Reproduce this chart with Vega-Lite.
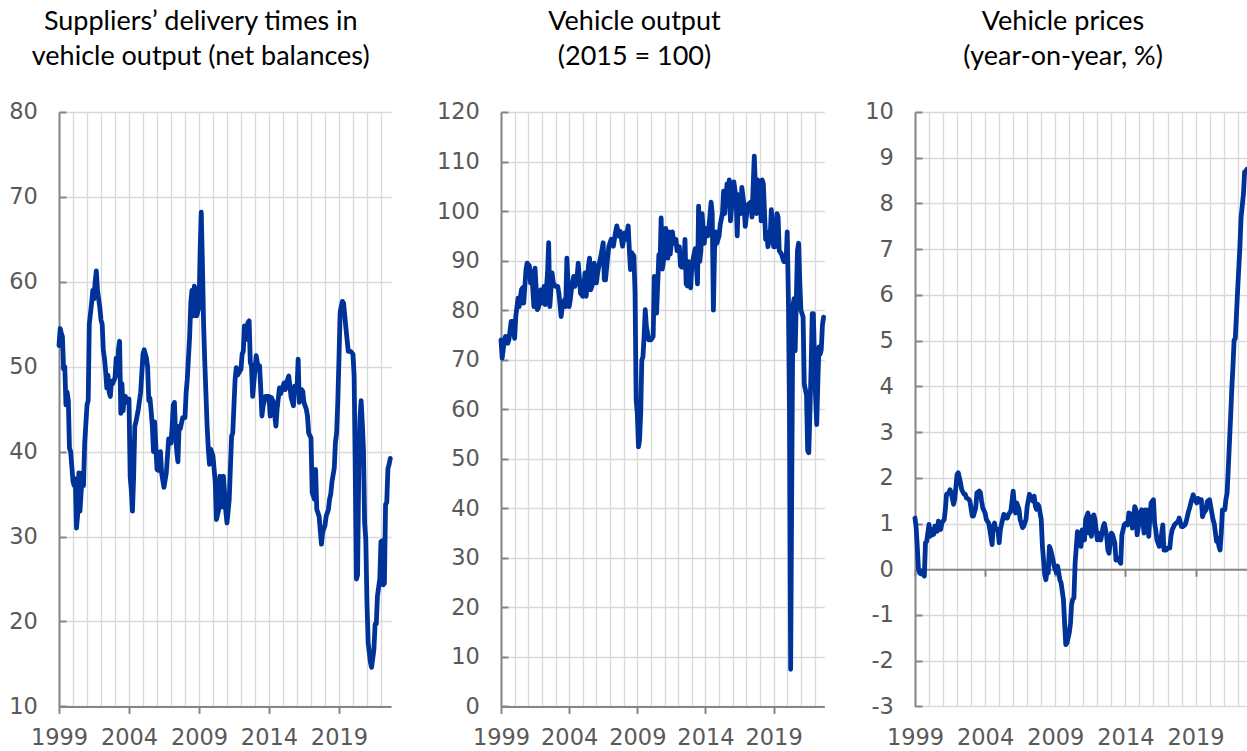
{
"$schema":"https://vega.github.io/schema/vega-lite/v6.json",
"padding":{"left":8,"top":8,"right":0,"bottom":0},
"spacing":38,
"config":{"view":{"stroke":null},
"axis":{"labelFont":"DejaVu Sans","labelFontSize":22.5,"labelColor":"#595959","domainColor":"#868686","domainWidth":2,"tickColor":"#868686","tickWidth":2,"gridColor":"#d9d9d9","gridWidth":1.3,"title":null},
"title":{"font":"Lato","fontSize":27,"fontWeight":"normal","color":"#000000","lineHeight":35,"anchor":"middle","frame":"bounds","offset":30},
"line":{"color":"#003399","strokeWidth":4.8,"strokeJoin":"round","strokeCap":"round"}},
"hconcat":[
{"width":332,"height":594.4,
"title":{"text":["Suppliers’ delivery times in","vehicle output (net balances)"]},
"data":{"values":[
{"date":"1999-01","value":52.5},{"date":"1999-02","value":54.5},{"date":"1999-03","value":54},{"date":"1999-04","value":53.5},{"date":"1999-05","value":49.7},{"date":"1999-06","value":50},{"date":"1999-07","value":45.5},{"date":"1999-08","value":47},{"date":"1999-09","value":46},{"date":"1999-10","value":40.4},{"date":"1999-11","value":40},
{"date":"2000-01","value":36.5},{"date":"2000-02","value":36},{"date":"2000-03","value":36.8},{"date":"2000-04","value":31},{"date":"2000-05","value":32.5},{"date":"2000-06","value":37.5},{"date":"2000-07","value":33},{"date":"2000-09","value":37.5},{"date":"2000-10","value":36},{"date":"2000-11","value":41},
{"date":"2001-01","value":45.5},{"date":"2001-02","value":46},{"date":"2001-03","value":55},{"date":"2001-05","value":57.5},{"date":"2001-06","value":59},{"date":"2001-07","value":58},{"date":"2001-08","value":60},{"date":"2001-09","value":61.3},{"date":"2001-10","value":59},{"date":"2001-12","value":57},
{"date":"2002-01","value":55.5},{"date":"2002-02","value":55},{"date":"2002-03","value":52},{"date":"2002-04","value":51},{"date":"2002-05","value":49.5},{"date":"2002-06","value":47.5},{"date":"2002-07","value":49},{"date":"2002-08","value":47},{"date":"2002-09","value":46.5},{"date":"2002-10","value":48.3},{"date":"2002-11","value":48},
{"date":"2003-01","value":48.7},{"date":"2003-02","value":51},{"date":"2003-03","value":49},{"date":"2003-04","value":52},{"date":"2003-05","value":53},{"date":"2003-06","value":44.5},{"date":"2003-07","value":48},{"date":"2003-08","value":44.8},{"date":"2003-09","value":46.5},{"date":"2003-10","value":46.5},{"date":"2003-11","value":45.8},
{"date":"2004-01","value":46.2},{"date":"2004-02","value":37},{"date":"2004-03","value":35.5},{"date":"2004-04","value":33},{"date":"2004-05","value":37},{"date":"2004-06","value":43},{"date":"2004-07","value":43.5},{"date":"2004-09","value":45},{"date":"2004-11","value":47},
{"date":"2005-01","value":51.5},{"date":"2005-02","value":52},{"date":"2005-03","value":51.5},{"date":"2005-04","value":51},{"date":"2005-05","value":50},{"date":"2005-06","value":46},{"date":"2005-07","value":46.3},{"date":"2005-08","value":44.8},{"date":"2005-09","value":43},{"date":"2005-10","value":40},{"date":"2005-11","value":43.5},
{"date":"2006-01","value":37.9},{"date":"2006-02","value":37.8},{"date":"2006-03","value":39.5},{"date":"2006-04","value":40},{"date":"2006-05","value":37.5},{"date":"2006-07","value":35.8},{"date":"2006-09","value":37.5},{"date":"2006-11","value":41.5},{"date":"2006-12","value":41},
{"date":"2007-01","value":41},{"date":"2007-02","value":43},{"date":"2007-03","value":45.5},{"date":"2007-04","value":45.8},{"date":"2007-05","value":42},{"date":"2007-06","value":40},{"date":"2007-07","value":38.8},{"date":"2007-08","value":43},{"date":"2007-09","value":42.7},{"date":"2007-11","value":44},
{"date":"2008-01","value":44},{"date":"2008-02","value":47},{"date":"2008-03","value":48.5},{"date":"2008-05","value":53.5},{"date":"2008-06","value":57.5},{"date":"2008-07","value":59},{"date":"2008-08","value":56},{"date":"2008-09","value":59.5},{"date":"2008-10","value":59},{"date":"2008-11","value":56},
{"date":"2009-01","value":57},{"date":"2009-02","value":64},{"date":"2009-03","value":68.2},{"date":"2009-04","value":62},{"date":"2009-05","value":55},{"date":"2009-06","value":50.5},{"date":"2009-08","value":43},{"date":"2009-09","value":40.3},{"date":"2009-10","value":38.5},{"date":"2009-11","value":40.3},
{"date":"2010-01","value":39.5},{"date":"2010-03","value":36.4},{"date":"2010-04","value":32},{"date":"2010-06","value":33.2},{"date":"2010-07","value":37.1},{"date":"2010-08","value":37},{"date":"2010-09","value":33.5},{"date":"2010-10","value":37.1},{"date":"2010-12","value":33},
{"date":"2011-01","value":31.6},{"date":"2011-03","value":34.4},{"date":"2011-05","value":41.8},{"date":"2011-06","value":42.2},{"date":"2011-08","value":48.5},{"date":"2011-09","value":49.9},{"date":"2011-10","value":49},
{"date":"2012-01","value":49.7},{"date":"2012-02","value":51.5},{"date":"2012-03","value":51.8},{"date":"2012-04","value":54.8},{"date":"2012-05","value":53.2},{"date":"2012-07","value":55.2},{"date":"2012-08","value":55.4},{"date":"2012-09","value":50.5},{"date":"2012-10","value":50.1},{"date":"2012-11","value":46.5},
{"date":"2013-01","value":49.7},{"date":"2013-02","value":51.3},{"date":"2013-04","value":49.7},{"date":"2013-05","value":50.1},{"date":"2013-06","value":47.3},{"date":"2013-07","value":44.2},{"date":"2013-08","value":45.4},{"date":"2013-10","value":46.5},
{"date":"2014-01","value":46.5},{"date":"2014-02","value":44.2},{"date":"2014-03","value":46.4},{"date":"2014-05","value":45.8},{"date":"2014-06","value":44.2},{"date":"2014-07","value":43},{"date":"2014-08","value":45},{"date":"2014-10","value":47.5},{"date":"2014-11","value":46.8},
{"date":"2015-01","value":47.7},{"date":"2015-02","value":48.1},{"date":"2015-03","value":47.3},{"date":"2015-05","value":48.5},{"date":"2015-06","value":48.9},{"date":"2015-08","value":46.4},{"date":"2015-10","value":45.4},{"date":"2015-11","value":47.7},
{"date":"2016-01","value":47.1},{"date":"2016-02","value":50.9},{"date":"2016-03","value":45.8},{"date":"2016-05","value":47.3},{"date":"2016-06","value":47.1},{"date":"2016-07","value":45.8},{"date":"2016-09","value":45},{"date":"2016-10","value":44.2},{"date":"2016-11","value":42.2},
{"date":"2017-01","value":41.6},{"date":"2017-02","value":35.2},{"date":"2017-04","value":34.4},{"date":"2017-05","value":37.9},{"date":"2017-06","value":33.2},{"date":"2017-08","value":32.4},{"date":"2017-10","value":29.1},{"date":"2017-11","value":30.5},
{"date":"2018-01","value":31.3},{"date":"2018-02","value":32.4},{"date":"2018-04","value":33.2},{"date":"2018-05","value":34.4},{"date":"2018-06","value":35},{"date":"2018-07","value":36.4},{"date":"2018-09","value":38.1},{"date":"2018-10","value":41.1},{"date":"2018-11","value":42.2},{"date":"2018-12","value":45.8},
{"date":"2019-01","value":50.9},{"date":"2019-02","value":56.4},{"date":"2019-03","value":57.1},{"date":"2019-04","value":57.7},{"date":"2019-05","value":57.5},{"date":"2019-07","value":54.6},{"date":"2019-08","value":53.2},{"date":"2019-09","value":51.8},{"date":"2019-11","value":51.8},
{"date":"2020-01","value":51.5},{"date":"2020-02","value":48.9},{"date":"2020-03","value":37.9},{"date":"2020-04","value":25},{"date":"2020-05","value":25.5},{"date":"2020-06","value":37.9},{"date":"2020-07","value":43.8},{"date":"2020-08","value":46},{"date":"2020-09","value":43.4},{"date":"2020-10","value":40.3},{"date":"2020-11","value":31.6},{"date":"2020-12","value":29.7},
{"date":"2021-01","value":22.2},{"date":"2021-02","value":17.5},{"date":"2021-04","value":15.2},{"date":"2021-05","value":14.6},{"date":"2021-07","value":16.7},{"date":"2021-08","value":19.7},{"date":"2021-09","value":19.7},{"date":"2021-10","value":23},{"date":"2021-12","value":25},
{"date":"2022-01","value":29.4},{"date":"2022-02","value":29.5},{"date":"2022-03","value":24.3},{"date":"2022-04","value":24.5},{"date":"2022-05","value":33.8},{"date":"2022-06","value":34},{"date":"2022-07","value":38},{"date":"2022-08","value":38.5},{"date":"2022-09","value":39.2}
]},
"mark":{"type":"line"},
"encoding":{
"x":{"field":"date","type":"temporal","scale":{"domain":[{"year":1999,"month":1,"date":1},{"year":2022,"month":9,"date":20}]},
"axis":{"values":[{"year":1999},{"year":2000},{"year":2001},{"year":2002},{"year":2003},{"year":2004},{"year":2005},{"year":2006},{"year":2007},{"year":2008},{"year":2009},{"year":2010},{"year":2011},{"year":2012},{"year":2013},{"year":2014},{"year":2015},{"year":2016},{"year":2017},{"year":2018},{"year":2019},{"year":2020},{"year":2021},{"year":2022}],
"format":"%Y","labelExpr":"year(datum.value) % 5 == 4 ? datum.label : ''","labelFlush":false,"labelOverlap":false,"tickSize":7,"labelPadding":12.7,
"tickOpacity":{"condition":{"test":"year(datum.value) % 5 == 4","value":1},"value":0}}},
"y":{"field":"value","type":"quantitative","scale":{"domain":[10,80],"nice":false,"zero":false},
"axis":{"values":[10,20,30,40,50,60,70,80],"tickSize":-7,"labelPadding":28.6,"labelExpr":"toString(datum.value)"}}}},
{"width":323.3,"height":594.4,
"title":{"text":["Vehicle output","(2015 = 100)"],"dx":6},
"data":{"values":[
{"date":"1999-01","value":74},{"date":"1999-02","value":70.3},{"date":"1999-04","value":74},{"date":"1999-05","value":74.7},{"date":"1999-07","value":73.3},{"date":"1999-08","value":74},{"date":"1999-10","value":77.7},{"date":"1999-11","value":77.7},
{"date":"2000-01","value":74.3},{"date":"2000-02","value":78.7},{"date":"2000-04","value":82.4},{"date":"2000-05","value":80.7},{"date":"2000-07","value":84.1},{"date":"2000-08","value":84.5},{"date":"2000-09","value":81.4},{"date":"2000-11","value":88.2},{"date":"2000-12","value":89.5},
{"date":"2001-02","value":88.9},{"date":"2001-03","value":85.5},{"date":"2001-04","value":87.8},{"date":"2001-06","value":80.7},{"date":"2001-07","value":88.5},{"date":"2001-09","value":80.1},{"date":"2001-10","value":80.5},{"date":"2001-12","value":84.1},
{"date":"2002-01","value":81.4},{"date":"2002-03","value":84.8},{"date":"2002-04","value":81.1},{"date":"2002-06","value":87.5},{"date":"2002-07","value":93.6},{"date":"2002-08","value":80.7},{"date":"2002-10","value":87.5},{"date":"2002-11","value":85.5},
{"date":"2003-01","value":84.8},{"date":"2003-03","value":84.8},{"date":"2003-04","value":83.4},{"date":"2003-06","value":78.7},{"date":"2003-07","value":80.7},{"date":"2003-09","value":82.1},{"date":"2003-10","value":80.7},{"date":"2003-11","value":90.5},
{"date":"2004-01","value":80.7},{"date":"2004-02","value":82.1},{"date":"2004-03","value":84.1},{"date":"2004-05","value":86.8},{"date":"2004-06","value":84.8},{"date":"2004-08","value":86.8},{"date":"2004-09","value":89.5},{"date":"2004-11","value":83.4},
{"date":"2005-01","value":82.8},{"date":"2005-03","value":87.5},{"date":"2005-04","value":82.8},{"date":"2005-06","value":88.9},{"date":"2005-07","value":90.5},{"date":"2005-08","value":84.1},{"date":"2005-10","value":85.5},{"date":"2005-11","value":89.5},
{"date":"2006-01","value":85.5},{"date":"2006-02","value":87.5},{"date":"2006-04","value":89.9},{"date":"2006-05","value":90.9},{"date":"2006-07","value":93.6},{"date":"2006-08","value":86.1},{"date":"2006-09","value":86.1},{"date":"2006-11","value":90.9},{"date":"2006-12","value":92.9},
{"date":"2007-02","value":94.3},{"date":"2007-03","value":94},{"date":"2007-04","value":92.9},{"date":"2007-06","value":95.9},{"date":"2007-07","value":97},{"date":"2007-09","value":94.9},{"date":"2007-10","value":95.9},{"date":"2007-12","value":92.9},
{"date":"2008-02","value":95.6},{"date":"2008-03","value":94.3},{"date":"2008-05","value":97},{"date":"2008-06","value":92.2},{"date":"2008-07","value":88.2},{"date":"2008-08","value":91.6},{"date":"2008-10","value":90.9},{"date":"2008-11","value":83.4},{"date":"2008-12","value":61.8},
{"date":"2009-01","value":59.1},{"date":"2009-02","value":52.4},{"date":"2009-03","value":53.7},{"date":"2009-04","value":59.1},{"date":"2009-05","value":69.9},{"date":"2009-06","value":70.6},{"date":"2009-07","value":74.7},{"date":"2009-08","value":80.1},{"date":"2009-09","value":76.7},{"date":"2009-11","value":74},
{"date":"2010-01","value":74},{"date":"2010-03","value":74.7},{"date":"2010-04","value":86.8},{"date":"2010-05","value":86.1},{"date":"2010-06","value":79.4},{"date":"2010-08","value":91.2},{"date":"2010-09","value":89},{"date":"2010-10","value":98.6},{"date":"2010-11","value":88.3},
{"date":"2011-01","value":91.3},{"date":"2011-02","value":96.5},{"date":"2011-04","value":90.5},{"date":"2011-05","value":95.8},{"date":"2011-06","value":91.3},{"date":"2011-08","value":95.8},{"date":"2011-09","value":93.5},{"date":"2011-11","value":94.3},{"date":"2011-12","value":92},
{"date":"2012-02","value":92.8},{"date":"2012-03","value":89},{"date":"2012-04","value":88.7},{"date":"2012-06","value":88.7},{"date":"2012-07","value":94.3},{"date":"2012-08","value":85.3},{"date":"2012-09","value":84.9},{"date":"2012-10","value":89.8},{"date":"2012-12","value":84.5},
{"date":"2013-01","value":89},{"date":"2013-03","value":91.3},{"date":"2013-04","value":92.4},{"date":"2013-06","value":85.3},{"date":"2013-07","value":101},{"date":"2013-08","value":89.8},{"date":"2013-09","value":92},{"date":"2013-10","value":99.5},{"date":"2013-12","value":93.5},
{"date":"2014-01","value":96.5},{"date":"2014-03","value":95},{"date":"2014-04","value":96.5},{"date":"2014-06","value":101.8},{"date":"2014-07","value":99.5},{"date":"2014-08","value":80},{"date":"2014-09","value":92},{"date":"2014-10","value":95.8},{"date":"2014-11","value":93.5},
{"date":"2015-01","value":95},{"date":"2015-02","value":97.3},{"date":"2015-04","value":99.5},{"date":"2015-05","value":104},{"date":"2015-06","value":99.5},{"date":"2015-08","value":105.5},{"date":"2015-09","value":103.3},{"date":"2015-10","value":106.3},{"date":"2015-11","value":98},
{"date":"2016-01","value":103.3},{"date":"2016-02","value":105.9},{"date":"2016-04","value":102.5},{"date":"2016-05","value":95},{"date":"2016-06","value":103.3},{"date":"2016-07","value":101},{"date":"2016-08","value":99.5},{"date":"2016-09","value":104.8},{"date":"2016-11","value":101},{"date":"2016-12","value":96.9},
{"date":"2017-02","value":101},{"date":"2017-03","value":101.4},{"date":"2017-05","value":101.8},{"date":"2017-06","value":98.8},{"date":"2017-08","value":111.1},{"date":"2017-09","value":104.8},{"date":"2017-10","value":99.5},{"date":"2017-11","value":106.3},
{"date":"2018-01","value":103.3},{"date":"2018-02","value":98},{"date":"2018-03","value":106.3},{"date":"2018-04","value":105.5},{"date":"2018-06","value":94.3},{"date":"2018-07","value":95.8},{"date":"2018-08","value":92.8},{"date":"2018-10","value":95},{"date":"2018-11","value":100.3},
{"date":"2019-01","value":92.8},{"date":"2019-02","value":92.8},{"date":"2019-04","value":99.5},{"date":"2019-05","value":98.8},{"date":"2019-06","value":92},{"date":"2019-08","value":91.3},{"date":"2019-09","value":90.5},{"date":"2019-10","value":89.8},{"date":"2019-12","value":89.8},
{"date":"2020-01","value":95.8},{"date":"2020-02","value":82.3},{"date":"2020-03","value":60},{"date":"2020-04","value":7.5},{"date":"2020-05","value":45},{"date":"2020-06","value":80.8},{"date":"2020-07","value":82.3},{"date":"2020-08","value":71.8},{"date":"2020-09","value":82.3},{"date":"2020-10","value":92},{"date":"2020-11","value":93.5},{"date":"2020-12","value":86},
{"date":"2021-01","value":80},{"date":"2021-03","value":78.6},{"date":"2021-04","value":65.1},{"date":"2021-06","value":62.8},{"date":"2021-07","value":51.6},{"date":"2021-08","value":51.2},{"date":"2021-10","value":68.1},{"date":"2021-11","value":79.3},{"date":"2021-12","value":79.3},
{"date":"2022-01","value":69.6},{"date":"2022-02","value":62},{"date":"2022-03","value":56.9},{"date":"2022-04","value":65.8},{"date":"2022-05","value":72.6},{"date":"2022-06","value":71.1},{"date":"2022-07","value":72},{"date":"2022-08","value":77},{"date":"2022-09","value":78.6}
]},
"mark":{"type":"line"},
"encoding":{
"x":{"field":"date","type":"temporal","scale":{"domain":[{"year":1999,"month":1,"date":1},{"year":2022,"month":9,"date":20}]},
"axis":{"values":[{"year":1999},{"year":2000},{"year":2001},{"year":2002},{"year":2003},{"year":2004},{"year":2005},{"year":2006},{"year":2007},{"year":2008},{"year":2009},{"year":2010},{"year":2011},{"year":2012},{"year":2013},{"year":2014},{"year":2015},{"year":2016},{"year":2017},{"year":2018},{"year":2019},{"year":2020},{"year":2021},{"year":2022}],
"format":"%Y","labelExpr":"year(datum.value) % 5 == 4 ? datum.label : ''","labelFlush":false,"labelOverlap":false,"tickSize":7,"labelPadding":12.7,
"tickOpacity":{"condition":{"test":"year(datum.value) % 5 == 4","value":1},"value":0}}},
"y":{"field":"value","type":"quantitative","scale":{"domain":[0,120],"nice":false},
"axis":{"values":[0,10,20,30,40,50,60,70,80,90,100,110,120],"tickSize":-7,"labelPadding":28.6,"minExtent":70,"labelExpr":"toString(datum.value)"}}}},
{"width":332.7,"height":594.4,
"title":{"text":["Vehicle prices","(year-on-year, %)"],"dx":6},
"data":{"values":[
{"date":"1999-01","value":1.12},{"date":"1999-02","value":0.9},{"date":"1999-03","value":0.5},{"date":"1999-04","value":0.0},{"date":"1999-05","value":-0.08},{"date":"1999-06","value":-0.1},{"date":"1999-07","value":-0.04},{"date":"1999-08","value":-0.1},{"date":"1999-09","value":-0.15},{"date":"1999-10","value":0.58},{"date":"1999-11","value":0.61},
{"date":"2000-01","value":0.98},{"date":"2000-02","value":0.72},{"date":"2000-03","value":0.76},{"date":"2000-04","value":0.87},{"date":"2000-05","value":0.76},{"date":"2000-06","value":0.94},{"date":"2000-08","value":0.83},{"date":"2000-09","value":1.05},{"date":"2000-11","value":0.87},{"date":"2000-12","value":1.01},
{"date":"2001-02","value":1.09},{"date":"2001-03","value":1.31},{"date":"2001-04","value":1.64},{"date":"2001-06","value":1.67},{"date":"2001-07","value":1.74},{"date":"2001-08","value":1.67},{"date":"2001-10","value":1.42},{"date":"2001-11","value":1.53},
{"date":"2002-01","value":2.07},{"date":"2002-02","value":2.11},{"date":"2002-04","value":1.89},{"date":"2002-05","value":1.74},{"date":"2002-07","value":1.64},{"date":"2002-08","value":1.64},{"date":"2002-09","value":1.56},{"date":"2002-11","value":1.53},{"date":"2002-12","value":1.49},
{"date":"2003-02","value":1.16},{"date":"2003-03","value":1.16},{"date":"2003-05","value":1.34},{"date":"2003-06","value":1.67},{"date":"2003-08","value":1.71},{"date":"2003-09","value":1.67},{"date":"2003-10","value":1.49},{"date":"2003-11","value":1.34},
{"date":"2004-01","value":1.23},{"date":"2004-02","value":1.09},{"date":"2004-04","value":1.01},{"date":"2004-05","value":0.87},{"date":"2004-07","value":0.54},{"date":"2004-08","value":0.94},{"date":"2004-09","value":1.01},{"date":"2004-10","value":0.87},{"date":"2004-12","value":0.87},
{"date":"2005-01","value":0.58},{"date":"2005-02","value":0.87},{"date":"2005-04","value":1.09},{"date":"2005-05","value":1.2},{"date":"2005-07","value":1.12},{"date":"2005-08","value":1.12},{"date":"2005-09","value":1.2},{"date":"2005-11","value":1.27},
{"date":"2006-01","value":1.71},{"date":"2006-02","value":1.38},{"date":"2006-03","value":1.23},{"date":"2006-04","value":1.45},{"date":"2006-06","value":1.31},{"date":"2006-07","value":1.09},{"date":"2006-09","value":0.91},{"date":"2006-10","value":0.94},{"date":"2006-12","value":1.09},
{"date":"2007-01","value":1.38},{"date":"2007-03","value":1.64},{"date":"2007-04","value":1.56},{"date":"2007-06","value":1.49},{"date":"2007-07","value":1.6},{"date":"2007-08","value":1.38},{"date":"2007-09","value":1.31},{"date":"2007-10","value":1.42},{"date":"2007-11","value":1.38},
{"date":"2008-01","value":1.09},{"date":"2008-02","value":0.5},{"date":"2008-03","value":0.21},{"date":"2008-04","value":-0.12},{"date":"2008-05","value":-0.23},{"date":"2008-06","value":-0.04},{"date":"2008-07","value":-0.08},{"date":"2008-08","value":0.5},{"date":"2008-09","value":0.43},{"date":"2008-11","value":0.21},{"date":"2008-12","value":0.07},
{"date":"2009-02","value":-0.08},{"date":"2009-03","value":0.07},{"date":"2009-05","value":-0.23},{"date":"2009-06","value":-0.3},{"date":"2009-08","value":-0.66},{"date":"2009-09","value":-1.18},{"date":"2009-10","value":-1.65},{"date":"2009-11","value":-1.61},
{"date":"2010-01","value":-1.39},{"date":"2010-02","value":-1.18},{"date":"2010-03","value":-0.77},{"date":"2010-04","value":-0.66},{"date":"2010-05","value":-0.63},{"date":"2010-06","value":0.13},{"date":"2010-08","value":0.82},{"date":"2010-09","value":0.72},{"date":"2010-11","value":0.5},{"date":"2010-12","value":0.86},
{"date":"2011-02","value":0.64},{"date":"2011-03","value":1.08},{"date":"2011-05","value":1.23},{"date":"2011-06","value":0.79},{"date":"2011-07","value":1.15},{"date":"2011-08","value":0.72},{"date":"2011-10","value":1.19},{"date":"2011-11","value":1.08},
{"date":"2012-01","value":0.64},{"date":"2012-02","value":0.79},{"date":"2012-04","value":0.64},{"date":"2012-05","value":0.79},{"date":"2012-06","value":0.93},{"date":"2012-07","value":1.0},{"date":"2012-09","value":0.72},{"date":"2012-10","value":0.42},{"date":"2012-11","value":0.35},
{"date":"2013-01","value":0.79},{"date":"2013-02","value":0.75},{"date":"2013-04","value":0.57},{"date":"2013-05","value":0.2},{"date":"2013-07","value":0.24},{"date":"2013-08","value":0.17},{"date":"2013-09","value":0.13},{"date":"2013-10","value":0.75},{"date":"2013-12","value":0.97},
{"date":"2014-01","value":1.0},{"date":"2014-03","value":0.97},{"date":"2014-04","value":1.23},{"date":"2014-06","value":1.19},{"date":"2014-07","value":0.9},{"date":"2014-09","value":1.37},{"date":"2014-10","value":1.3},{"date":"2014-11","value":0.75},
{"date":"2015-01","value":1.08},{"date":"2015-02","value":1.26},{"date":"2015-03","value":1.3},{"date":"2015-05","value":0.79},{"date":"2015-06","value":1.3},{"date":"2015-07","value":1.3},{"date":"2015-09","value":0.72},{"date":"2015-10","value":1.15},{"date":"2015-11","value":1.45},
{"date":"2016-01","value":1.52},{"date":"2016-02","value":1.0},{"date":"2016-03","value":0.86},{"date":"2016-04","value":0.64},{"date":"2016-06","value":0.5},{"date":"2016-07","value":0.57},{"date":"2016-09","value":0.97},{"date":"2016-10","value":0.42},{"date":"2016-12","value":0.42},
{"date":"2017-01","value":0.46},{"date":"2017-03","value":0.46},{"date":"2017-04","value":0.72},{"date":"2017-05","value":0.86},{"date":"2017-07","value":0.97},{"date":"2017-08","value":1.0},{"date":"2017-10","value":1.04},{"date":"2017-11","value":1.12},
{"date":"2018-01","value":0.93},{"date":"2018-02","value":0.93},{"date":"2018-04","value":0.97},{"date":"2018-05","value":1.04},{"date":"2018-07","value":1.26},{"date":"2018-08","value":1.34},{"date":"2018-09","value":1.45},{"date":"2018-11","value":1.63},{"date":"2018-12","value":1.55},
{"date":"2019-02","value":1.45},{"date":"2019-03","value":1.55},{"date":"2019-05","value":1.52},{"date":"2019-06","value":1.52},{"date":"2019-07","value":1.15},{"date":"2019-08","value":1.23},{"date":"2019-10","value":1.3},{"date":"2019-11","value":1.48},
{"date":"2020-01","value":1.52},{"date":"2020-02","value":1.37},{"date":"2020-04","value":1.08},{"date":"2020-05","value":1.0},{"date":"2020-07","value":0.61},{"date":"2020-08","value":0.68},{"date":"2020-09","value":0.5},{"date":"2020-10","value":0.42},{"date":"2020-11","value":0.79},{"date":"2020-12","value":1.3},
{"date":"2021-02","value":1.3},{"date":"2021-03","value":1.52},{"date":"2021-04","value":1.66},{"date":"2021-05","value":2.17},{"date":"2021-06","value":2.75},{"date":"2021-07","value":3.3},{"date":"2021-08","value":3.92},{"date":"2021-09","value":4.43},{"date":"2021-10","value":5.01},{"date":"2021-11","value":5.05},
{"date":"2022-01","value":6.1},{"date":"2022-03","value":7.05},{"date":"2022-04","value":7.7},{"date":"2022-06","value":8.2},{"date":"2022-07","value":8.69},{"date":"2022-08","value":8.7},{"date":"2022-09","value":8.75}
]},
"mark":{"type":"line"},
"encoding":{
"x":{"field":"date","type":"temporal","scale":{"domain":[{"year":1999,"month":1,"date":1},{"year":2022,"month":9,"date":20}]},
"axis":{"values":[{"year":1999},{"year":2000},{"year":2001},{"year":2002},{"year":2003},{"year":2004},{"year":2005},{"year":2006},{"year":2007},{"year":2008},{"year":2009},{"year":2010},{"year":2011},{"year":2012},{"year":2013},{"year":2014},{"year":2015},{"year":2016},{"year":2017},{"year":2018},{"year":2019},{"year":2020},{"year":2021},{"year":2022}],
"format":"%Y","labelExpr":"year(datum.value) % 5 == 4 ? datum.label : ''","labelFlush":false,"labelOverlap":false,"tickSize":7,"labelPadding":149.9,"offset":-137.2,
"tickOpacity":{"condition":{"test":"year(datum.value) % 5 == 4","value":1},"value":0}}},
"y":{"field":"value","type":"quantitative","scale":{"domain":[-3,10],"nice":false,"zero":false},
"axis":{"values":[-3,-2,-1,0,1,2,3,4,5,6,7,8,9,10],"tickSize":-7,"labelPadding":28.6,"labelExpr":"toString(datum.value)"}}}}
]
}
